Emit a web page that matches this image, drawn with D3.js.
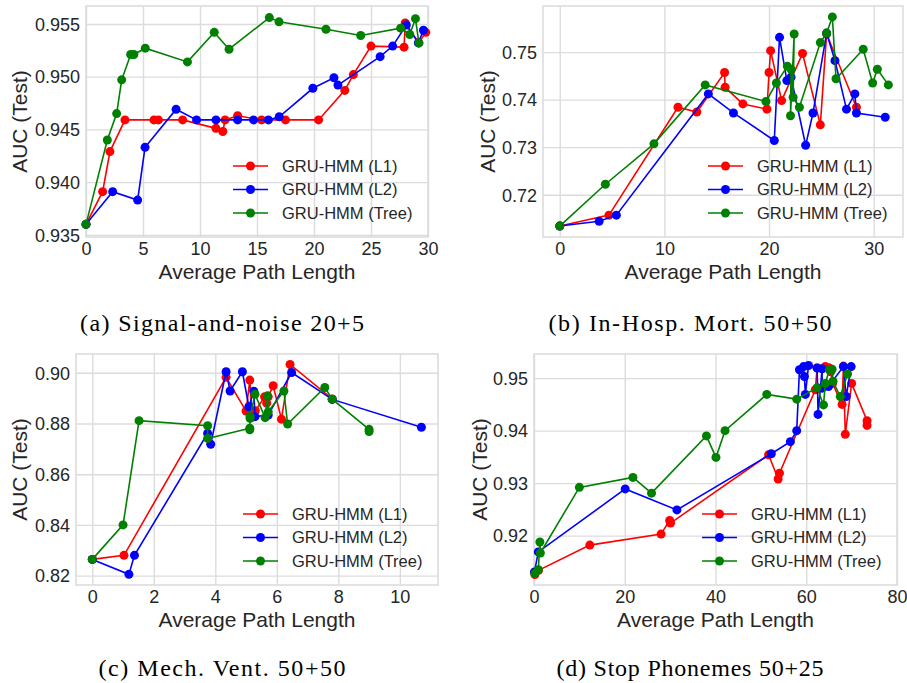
<!DOCTYPE html>
<html>
<head>
<meta charset="utf-8">
<script src="https://cdn.jsdelivr.net/npm/d3@7"></script>
<style>
  body { margin: 0; background: #fff; }
  svg { display: block; }
</style>
</head>
<body>
<svg width="907" height="683"></svg>
<script>
// series names shared by every panel
var seriesNames = ["GRU-HMM (L1)", "GRU-HMM (L2)", "GRU-HMM (Tree)"];

// (a) Signal-and-noise 20+5 : [average path length, AUC]
var sigL1 = [[0,0.9360],[1.46,0.9391],[2.1,0.9429],[3.42,0.9459],[5.96,0.9459],[6.35,0.9459],[8.48,0.9459],
  [11.4,0.9451],[12.0,0.9448],[12.2,0.9459],[13.3,0.9463],[15.4,0.9459],[17.5,0.9459],[20.4,0.9459],
  [22.7,0.9487],[23.45,0.9502],[25.0,0.9529],[27.9,0.9528],[28.0,0.9551],[29.2,0.9532],[29.8,0.9542]];
var sigL2 = [[0,0.9360],[2.34,0.9391],[4.53,0.9383],[5.18,0.9433],[7.9,0.9469],[9.7,0.9459],[11.4,0.9459],
  [13.3,0.9459],[14.7,0.9459],[16.0,0.9459],[16.95,0.9462],[19.9,0.9489],[21.75,0.9499],[22.1,0.9492],
  [25.8,0.9519],[26.9,0.9529],[28.1,0.9549],[29.15,0.9532],[29.6,0.9544]];
var sigTree = [[0,0.9360],[1.87,0.9440],[2.69,0.9465],[3.13,0.9497],[3.92,0.9521],[4.2,0.9521],[5.2,0.9527],
  [8.9,0.9514],[11.25,0.9542],[12.55,0.9526],[16.08,0.9556],[16.93,0.9552],[21.05,0.9545],[24.1,0.9539],
  [27.6,0.9546],[28.4,0.9540],[28.9,0.9555],[29.2,0.9532]];

// (b) In-Hosp. Mort. 50+50
var mortL1 = [[0,0.7134],[4.7,0.7157],[11.3,0.7384],[13.1,0.7374],[15.75,0.7457],[15.8,0.7426],[17.5,0.7391],
  [19.8,0.7380],[20.0,0.7457],[20.15,0.7503],[21.2,0.7398],[23.2,0.7497],[24.9,0.7347],[25.5,0.7538],[28.35,0.7384]];
var mortL2 = [[0,0.7134],[3.76,0.7144],[5.41,0.7157],[14.2,0.7412],[16.6,0.7372],[20.5,0.7314],[21.0,0.7531],
  [21.7,0.7440],[22.1,0.7447],[23.5,0.7304],[24.2,0.7372],[25.5,0.7540],[26.3,0.7482],[27.4,0.7380],
  [28.2,0.7412],[28.35,0.7372],[31.1,0.7363]];
var mortTree = [[0,0.7134],[4.36,0.7222],[9.0,0.7307],[13.9,0.7431],[19.7,0.7396],[20.7,0.7435],[21.75,0.7470],
  [22.1,0.7464],[22.05,0.7366],[22.4,0.7538],[22.3,0.7405],[22.9,0.7384],[24.9,0.7520],[25.5,0.7540],
  [26.05,0.7574],[26.4,0.7444],[29.0,0.7506],[29.9,0.7435],[30.35,0.7464],[31.4,0.7431]];

// (c) Mech. Vent. 50+50
var ventL1 = [[0,0.8264],[1.03,0.8280],[4.35,0.8982],[5.0,0.8849],[5.12,0.8971],[5.2,0.8825],[5.3,0.8850],
  [5.6,0.8905],[5.67,0.8880],[5.72,0.8905],[5.88,0.8949],[6.15,0.8817],[6.43,0.9033],[7.8,0.8897]];
var ventL2 = [[0,0.8264],[1.19,0.8205],[1.37,0.8280],[3.75,0.8761],[3.85,0.8718],[4.35,0.9004],[4.48,0.8928],
  [4.88,0.9004],[5.09,0.8866],[5.25,0.8927],[5.29,0.8827],[5.72,0.8833],[6.48,0.9001],[7.8,0.8895],[10.7,0.8785]];
var ventTree = [[0,0.8264],[1.0,0.8400],[1.52,0.8811],[3.75,0.8791],[3.75,0.8741],[5.12,0.8781],[5.12,0.8775],
  [5.13,0.8820],[5.13,0.8828],[5.29,0.8915],[5.62,0.8823],[5.7,0.8909],[5.72,0.8846],[6.23,0.8928],
  [6.35,0.8798],[7.56,0.8942],[7.8,0.8896],[9.0,0.8777],[9.0,0.8768]];

// (d) Stop Phonemes 50+25
var stopL1 = [[0.2,0.9126],[1.0,0.9134],[12.3,0.9182],[28.0,0.9203],[29.9,0.9229],[30.1,0.9224],[51.7,0.9354],
  [53.8,0.9308],[54.1,0.9319],[62.0,0.9478],[62.4,0.9520],[64.2,0.9522],[65.0,0.9520],[65.4,0.9512],
  [65.8,0.9490],[67.9,0.9450],[68.2,0.9523],[68.6,0.9393],[70.0,0.9490],[73.4,0.9419],[73.4,0.9410]];
var stopL2 = [[0.1,0.9131],[0.95,0.9169],[20.1,0.9289],[31.5,0.9249],[52.3,0.9356],[56.5,0.9379],[57.9,0.9400],
  [58.5,0.9516],[59.4,0.9522],[59.6,0.9503],[59.8,0.9469],[60.5,0.9524],[62.4,0.9519],[62.6,0.9431],
  [63.5,0.9518],[63.5,0.9481],[64.9,0.9484],[68.2,0.9522],[68.8,0.9465],[69.9,0.9522]];
var stopTree = [[0.2,0.9128],[0.95,0.9135],[1.3,0.9188],[1.4,0.9167],[10.0,0.9292],[21.8,0.9311],[25.9,0.9281],
  [38.0,0.9390],[40.1,0.9349],[42.1,0.9400],[51.3,0.9469],[57.9,0.9460],[62.4,0.9482],[63.8,0.9449],
  [64.2,0.9490],[65.1,0.9516],[65.7,0.9517],[65.9,0.9494],[67.5,0.9465],[69.1,0.9508]];

// tick values
var sigXTicks = [0, 5, 10, 15, 20, 25, 30];
var sigYTicks = [0.935, 0.940, 0.945, 0.950, 0.955];
var mortXTicks = [0, 10, 20, 30];
var mortYTicks = [0.72, 0.73, 0.74, 0.75];
var ventXTicks = [0, 2, 4, 6, 8, 10];
var ventYTicks = [0.82, 0.84, 0.86, 0.88, 0.90];
var stopXTicks = [0, 20, 40, 60, 80];
var stopYTicks = [0.92, 0.93, 0.94, 0.95];

var captions = ["(a) Signal-and-noise 20+5", "(b) In-Hosp. Mort. 50+50",
                "(c) Mech. Vent. 50+50", "(d) Stop Phonemes 50+25"];

var colors = ["#ff0000", "#0000ff", "#008000"];

var panels = [
  { series: [sigL1, sigL2, sigTree], xt: sigXTicks, yt: sigYTicks, yf: ".3f",
    xd: [0, 30], yd: [0.9348, 0.9567], box: [86, 428, 6, 237], ylx: 20, capW: 284 },
  { series: [mortL1, mortL2, mortTree], xt: mortXTicks, yt: mortYTicks, yf: ".2f",
    xd: [-1.6, 32.8], yd: [0.7111, 0.7597], box: [543, 903, 6, 237], ylx: 488, capW: 283 },
  { series: [ventL1, ventL2, ventTree], xt: ventXTicks, yt: ventYTicks, yf: ".2f",
    xd: [-0.53, 11.24], yd: [0.8163, 0.9074], box: [76, 438, 354, 585], ylx: 20, capW: 247 },
  { series: [stopL1, stopL2, stopTree], xt: stopXTicks, yt: stopYTicks, yf: ".2f",
    xd: [0, 80], yd: [0.9106, 0.9546], box: [534, 897, 354, 585], ylx: 480, capW: 267 }
];

var svg = d3.select("svg");
var sans = "'Liberation Sans', Arial, sans-serif";
var gridColor = "#dcdcdc";
var textColor = "#262626";

panels.forEach(function(p, i) {
  var x0 = p.box[0], x1 = p.box[1], y0 = p.box[2], y1 = p.box[3];
  var x = d3.scaleLinear().domain(p.xd).range([x0, x1]);
  var y = d3.scaleLinear().domain(p.yd).range([y1, y0]);
  var g = svg.append("g");

  // grid
  var gx = g.append("g")
      .attr("transform", "translate(0," + y1 + ")")
      .call(d3.axisBottom(x).tickValues(p.xt).tickSize(-(y1 - y0)).tickPadding(6));
  var gy = g.append("g")
      .attr("transform", "translate(" + x0 + ",0)")
      .call(d3.axisLeft(y).tickValues(p.yt).tickFormat(d3.format(p.yf)).tickSize(-(x1 - x0)).tickPadding(6));
  [gx, gy].forEach(function(a) {
    a.select(".domain").remove();
    a.selectAll(".tick line").attr("stroke", gridColor).attr("stroke-width", 1.4);
    a.selectAll(".tick text")
        .attr("fill", textColor)
        .style("font-family", sans)
        .style("font-size", "18px");
  });
  gx.selectAll(".tick text").attr("dy", "0.64em");
  gy.selectAll(".tick text").attr("dy", "0.35em");

  // frame
  g.append("rect")
      .attr("x", x0).attr("y", y0)
      .attr("width", x1 - x0).attr("height", y1 - y0)
      .attr("fill", "none")
      .attr("stroke", gridColor)
      .attr("stroke-width", 1.6);

  // series
  var line = d3.line().x(function(d) { return x(d[0]); }).y(function(d) { return y(d[1]); });
  p.series.forEach(function(s, k) {
    g.append("path")
        .datum(s)
        .attr("d", line)
        .attr("fill", "none")
        .attr("stroke", colors[k])
        .attr("stroke-width", 1.6);
    g.selectAll(null)
        .data(s)
        .enter().append("circle")
          .attr("cx", function(d) { return x(d[0]); })
          .attr("cy", function(d) { return y(d[1]); })
          .attr("r", 4.5)
          .attr("fill", colors[k]);
  });

  // axis labels
  g.append("text")
      .attr("x", (x0 + x1) / 2)
      .attr("y", y1 + 42)
      .attr("text-anchor", "middle")
      .attr("fill", textColor)
      .style("font-family", sans)
      .style("font-size", "21px")
      .text("Average Path Length");
  g.append("text")
      .attr("transform", "translate(" + p.ylx + "," + ((y0 + y1) / 2) + ") rotate(-90)")
      .attr("dy", "0.35em")
      .attr("text-anchor", "middle")
      .attr("fill", textColor)
      .style("font-family", sans)
      .style("font-size", "21px")
      .text("AUC (Test)");

  // legend
  var legend = g.append("g");
  seriesNames.forEach(function(name, k) {
    var ly = y1 - 71 + k * 23.5;
    legend.append("line")
        .attr("x1", x1 - 195).attr("x2", x1 - 160)
        .attr("y1", ly).attr("y2", ly)
        .attr("stroke", colors[k]).attr("stroke-width", 1.6);
    legend.append("circle")
        .attr("cx", x1 - 177.5).attr("cy", ly).attr("r", 4.5)
        .attr("fill", colors[k]);
    legend.append("text")
        .attr("x", x1 - 146).attr("y", ly)
        .attr("dy", "0.35em")
        .attr("fill", textColor)
        .style("font-family", sans)
        .style("font-size", "16.5px")
        .text(name);
  });

  // caption
  svg.append("text")
      .attr("x", i % 2 === 0 ? 222 : 690)
      .attr("y", i < 2 ? 331 : 676)
      .attr("text-anchor", "middle")
      .attr("textLength", p.capW)
      .attr("lengthAdjust", "spacing")
      .attr("fill", "#000")
      .style("font-family", "'Liberation Serif', 'Times New Roman', serif")
      .style("font-size", "24px")
      .text(captions[i]);
});
</script>
</body>
</html>
